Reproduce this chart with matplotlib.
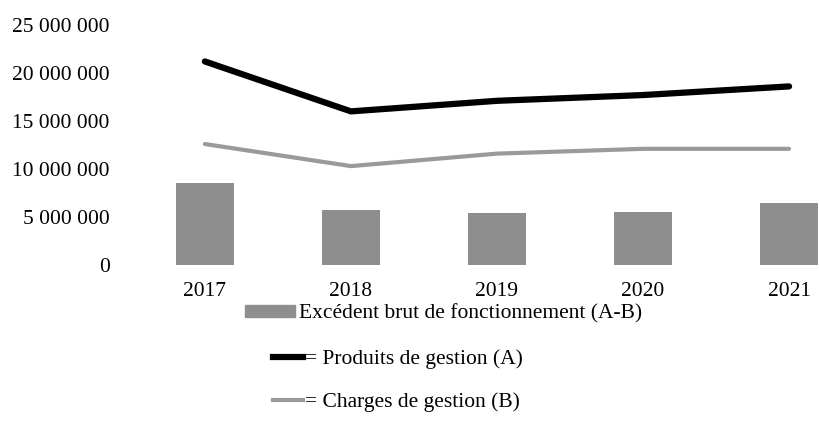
import matplotlib.pyplot as plt
from matplotlib.ticker import FuncFormatter
from matplotlib.patches import Patch
from matplotlib.lines import Line2D

# data
years = ['2017', '2018', '2019', '2020', '2021']
produits = [21200000, 16000000, 17100000, 17700000, 18600000]   # (A)
charges = [12600000, 10300000, 11600000, 12100000, 12100000]    # (B)
excedent = [8500000, 5700000, 5400000, 5500000, 6500000]       # (A-B)

plt.rcParams['font.family'] = ['Liberation Serif', 'DejaVu Serif']

fig = plt.figure(figsize=(8.19, 4.23), dpi=100)
ax = fig.add_axes([0.161, 0.3735, 0.839, 0.5675])

x = range(len(years))
ax.bar(x, excedent, width=0.4, color='#8e8e8e', zorder=1)
ax.plot(x, produits, color='black', lw=4.5, solid_capstyle='round', zorder=3)
ax.plot(x, charges, color='#9a9a9a', lw=3, solid_capstyle='round', zorder=2)

ax.set_xlim(-0.5, 4.205)
ax.set_ylim(0, 25000000)
ax.set_yticks(range(0, 25000001, 5000000))
ax.yaxis.set_major_formatter(FuncFormatter(lambda v, p: f'{v:,.0f}'.replace(',', ' ')))
ax.set_xticks(list(x))
ax.set_xticklabels(years)
ax.tick_params(axis='y', length=0, pad=16, labelsize=15.5)
ax.tick_params(axis='x', length=0, pad=12, labelsize=15.5)
for s in ax.spines.values():
    s.set_visible(False)

# legend entries stacked below the chart, as in the original
leg1 = fig.legend(handles=[Patch(color='#8e8e8e', label='Excédent brut de fonctionnement (A-B)')],
                  loc='center left', bbox_to_anchor=(245 / 819, 1 - 314 / 423),
                  frameon=False, fontsize=15.5, borderpad=0, borderaxespad=0,
                  handlelength=2.3, handleheight=0.45, handletextpad=0.2)
leg2 = fig.legend(handles=[Line2D([], [], color='black', lw=4.5, label='= Produits de gestion (A)')],
                  loc='center left', bbox_to_anchor=(273 / 819, 1 - 359 / 423),
                  frameon=False, fontsize=15.5, borderpad=0, borderaxespad=0,
                  handlelength=1.4, handletextpad=0.1)
leg3 = fig.legend(handles=[Line2D([], [], color='#9a9a9a', lw=3, label='= Charges de gestion (B)')],
                  loc='center left', bbox_to_anchor=(273 / 819, 1 - 402 / 423),
                  frameon=False, fontsize=15.5, borderpad=0, borderaxespad=0,
                  handlelength=1.4, handletextpad=0.1)

fig.savefig('out.png', dpi=100)
